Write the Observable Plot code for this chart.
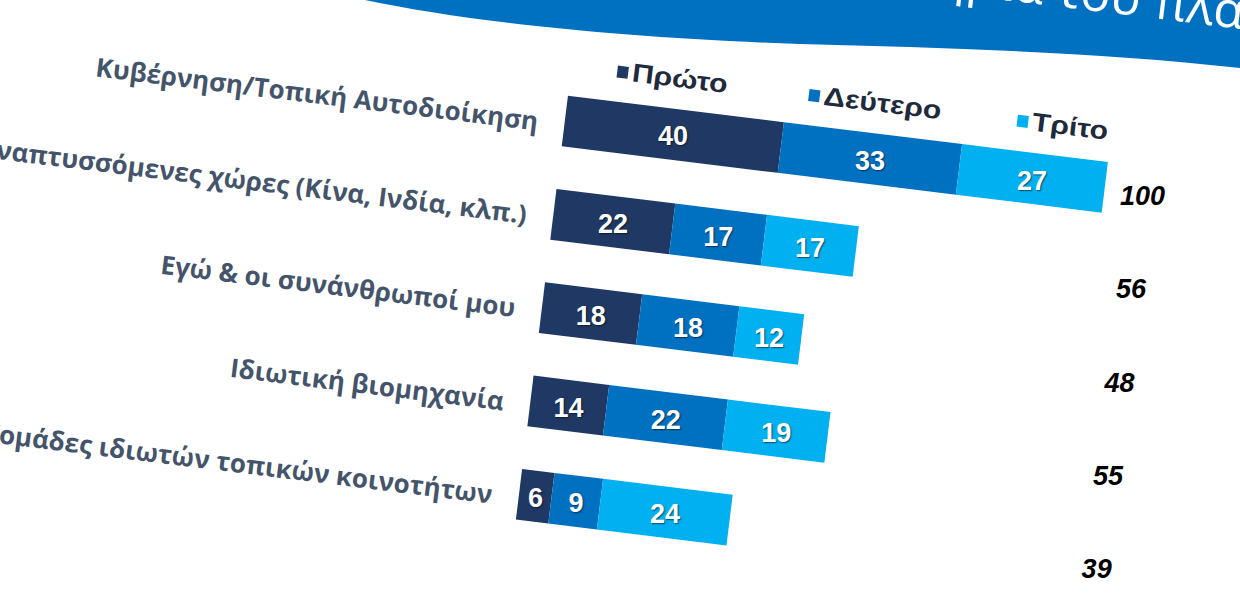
<!DOCTYPE html>
<html>
<head>
<meta charset="utf-8">
<script src="https://cdn.jsdelivr.net/npm/d3@7"></script>
<script src="https://cdn.jsdelivr.net/npm/@observablehq/plot@0.6"></script>
<style>
  html, body { margin: 0; padding: 0; width: 1240px; height: 600px; overflow: hidden; background: #fff; }
  #banner { position: absolute; left: 0; top: 0; }
  #chart { position: absolute; left: -21px; top: -31px; transform: rotate(7deg); transform-origin: 0 0; }
  #legend { position: absolute; left: 646px; top: 8px; display: flex; align-items: center;
            font-family: "Liberation Sans", Arial, sans-serif; font-weight: bold; font-size: 26px; color: #1f2a3c; white-space: nowrap; }
  #legend .item { display: flex; align-items: center; gap: 4px; }
  #legend .item:nth-child(1) { width: 193px; }
  #legend .item:nth-child(2) { width: 210px; }
  #legend .txt { display: inline-block; transform: scaleX(1.16); transform-origin: 0 50%; }
  #legend .sw { width: 11px; height: 12px; display: inline-block; }
  #chart g[fill="white"] text { text-shadow: 1px 1px 1.5px rgba(0,0,0,0.55); }
</style>
</head>
<body>
<svg id="banner" width="1240" height="600">
  <path d="M365,0 C470,22 620,38 800,44 C950,48 1100,52 1240,68 L1240,0 Z" fill="#0070c0"></path>
  <g transform="translate(1153,18) rotate(7)" fill="#fff" font-family="'Open Sans', sans-serif" font-size="50">
    <text text-anchor="end" x="-14">Ποιος είναι υπεύθυνος για τη σωτηρία του</text>
    <text text-anchor="start" x="0">πλανήτη;</text>
  </g>
</svg>
<div id="chart"><div id="legend"></div></div>
<script>
// ---- data ----
const categories = [
  "Κυβέρνηση/Τοπική Αυτοδιοίκηση",
  "Αναπτυσσόμενες χώρες (Κίνα, Ινδία, κλπ.)",
  "Εγώ & οι συνάνθρωποί μου",
  "Ιδιωτική βιομηχανία",
  "ΜΚΟ/ομάδες ιδιωτών τοπικών κοινοτήτων"
];
const series = ["Πρώτο", "Δεύτερο", "Τρίτο"];
const first  = [40, 22, 18, 14, 6];
const second = [33, 17, 18, 22, 9];
const third  = [27, 17, 12, 19, 24];
const totals = [100, 56, 48, 55, 39];
const colors = ["#1f3864", "#0070c0", "#00b0f0"];

// ---- tables ----
const seriesValues = [first, second, third];
const rows = [];
categories.forEach((c, i) => {
  series.forEach((s, j) => rows.push({category: c, series: s, value: seriesValues[j][i]}));
});
const totalRows = categories.map((c, i) => ({category: c, total: totals[i]}));

const plot = Plot.plot({
  width: 1214,
  height: 536,
  marginLeft: 600,
  marginRight: 70,
  marginTop: 10,
  marginBottom: 10,
  style: {fontFamily: "'Liberation Sans', Arial, sans-serif", background: "transparent", overflow: "visible"},
  x: {domain: [0, 100], axis: null},
  y: {domain: categories, padding: 0.455, axis: null},
  color: {domain: series, range: colors},
  marks: [
    Plot.barX(rows, Plot.stackX({x: "value", y: "category", fill: "series", order: series})),
    Plot.text(rows, Plot.stackX({x: "value", y: "category", z: "series", order: series, text: d => String(d.value),
      fill: "white", fontSize: 27, fontWeight: "bold", rotate: -7, dy: 2})),
    Plot.text(totalRows, {y: "category", text: d => String(d.total), frameAnchor: "right", textAnchor: "middle",
      dx: 38, dy: 4, fill: "black", fontSize: 27, fontWeight: "bold", fontStyle: "italic", rotate: -7}),
    Plot.axisY({tickSize: 0, tickPadding: 27, fontSize: 26, fontWeight: "bold", fill: "#44546a",
      fontFamily: "'Open Sans', sans-serif", label: null, dy: 4})
  ]
});
document.getElementById("chart").appendChild(plot);

// legend
const legend = d3.select("#legend");
series.forEach((s, j) => {
  const it = legend.append("div").attr("class", "item");
  it.append("span").attr("class", "sw").style("background", colors[j]);
  it.append("span").attr("class", "txt").text(s);
});
</script>
</body>
</html>
